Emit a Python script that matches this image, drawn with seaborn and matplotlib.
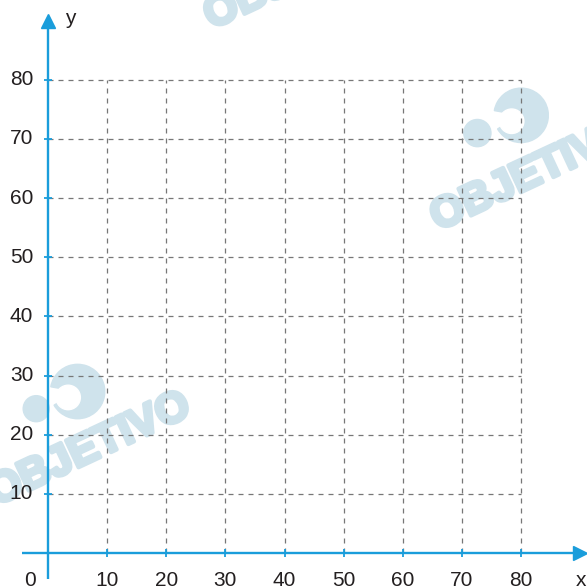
"""
坐标网格图（空白方格纸）
"""

import numpy as np
import pandas as pd
import matplotlib
matplotlib.use('Agg')
import matplotlib.pyplot as plt
import matplotlib.patheffects as pe
import seaborn as sns
from matplotlib.patches import Circle, Wedge

# ==================== 数据 ====================
x_ticks = [10, 20, 30, 40, 50, 60, 70, 80]
y_ticks = [10, 20, 30, 40, 50, 60, 70, 80]
x_labels = ['10', '20', '30', '40', '50', '60', '70', '80']
y_labels = ['10', '20', '30', '40', '50', '60', '70', '80']
grid_max = 80
origin_label = '0'
x_name = 'x'
y_name = 'y'
watermark = 'OBJETIVO'

# ==================== 颜色 ====================
AXIS_BLUE = '#1a9ddb'
GRID_GRAY = '#777777'
WM_BLUE = '#cfe3ec'
TEXT_COLOR = '#231f20'

sns.set_theme(style='white')
plt.rcParams['font.family'] = ['Liberation Sans', 'DejaVu Sans']

fig = plt.figure(figsize=(5.87, 5.87), dpi=100)
ax = fig.add_axes([0, 0, 1, 1])
ax.set_xlim(-8.12, 91.14)
ax.set_ylim(-5.75, 93.5)
ax.axis('off')

# ==================== 水印 ====================
for (cx, cy) in [(7.0, 17.4), (81.8, 63.9), (43.5, 98.0)]:
    ax.text(cx, cy, watermark, color=WM_BLUE, fontsize=31, fontweight='bold',
            rotation=25, ha='center', va='center', zorder=0,
            path_effects=[pe.withStroke(linewidth=3, foreground=WM_BLUE)])

for (bx, by, br, sx, sy, sr) in [(5.0, 27.3, 4.6, -2.0, 24.4, 2.2),
                                 (80.0, 74.0, 4.6, 72.6, 71.0, 2.3)]:
    ax.add_patch(Wedge((bx, by), br, -150, 170, color=WM_BLUE, zorder=0))
    ax.add_patch(Circle((bx - 1.6, by - 1.0), br * 0.45, color='white', zorder=0))
    ax.add_patch(Circle((sx, sy), sr, color=WM_BLUE, zorder=0))

# ==================== 虚线网格 ====================
rows = []
for t in x_ticks:
    rows += [dict(line=f'v{t}', x=t, y=0), dict(line=f'v{t}', x=t, y=grid_max)]
for t in y_ticks:
    rows += [dict(line=f'h{t}', x=0, y=t), dict(line=f'h{t}', x=grid_max, y=t)]
grid_df = pd.DataFrame(rows)

sns.lineplot(data=grid_df, x='x', y='y', units='line', estimator=None, sort=False,
             color=GRID_GRAY, linewidth=0.9, linestyle=(0, (4, 4)),
             legend=False, ax=ax, zorder=1)
ax.axis('off')

# ==================== 坐标轴与箭头 ====================
ax.plot([-4.4, 89.5], [0, 0], color=AXIS_BLUE, linewidth=1.7, zorder=3,
        solid_capstyle='butt')
ax.plot([0, 0], [-4.4, 89.5], color=AXIS_BLUE, linewidth=1.7, zorder=3,
        solid_capstyle='butt')
ax.plot([89.95], [0], marker='>', markersize=9.5, color=AXIS_BLUE,
        linestyle='none', zorder=3)
ax.plot([0], [89.95], marker='^', markersize=9.5, color=AXIS_BLUE,
        linestyle='none', zorder=3)

# 刻度线
ax.plot(x_ticks, [0] * len(x_ticks), marker='|', markersize=6, markeredgewidth=1.3,
        color=AXIS_BLUE, linestyle='none', zorder=3)
ax.plot([0] * len(y_ticks), y_ticks, marker='_', markersize=6, markeredgewidth=1.3,
        color=AXIS_BLUE, linestyle='none', zorder=3)

# ==================== 标签 ====================
for t, lab in zip(x_ticks, x_labels):
    ax.text(t, -4.6, lab, fontsize=15, ha='center', va='center', color=TEXT_COLOR)
for t, lab in zip(y_ticks, y_labels):
    ax.text(-2.5, t, lab, fontsize=15, ha='right', va='center', color=TEXT_COLOR)
ax.text(-3.0, -4.6, origin_label, fontsize=15, ha='center', va='center', color=TEXT_COLOR)
ax.text(90.2, -4.6, x_name, fontsize=15, ha='center', va='center', color=TEXT_COLOR)
ax.text(3.8, 90.3, y_name, fontsize=15, ha='center', va='center', color=TEXT_COLOR)

plt.savefig('out.png', dpi=100)
